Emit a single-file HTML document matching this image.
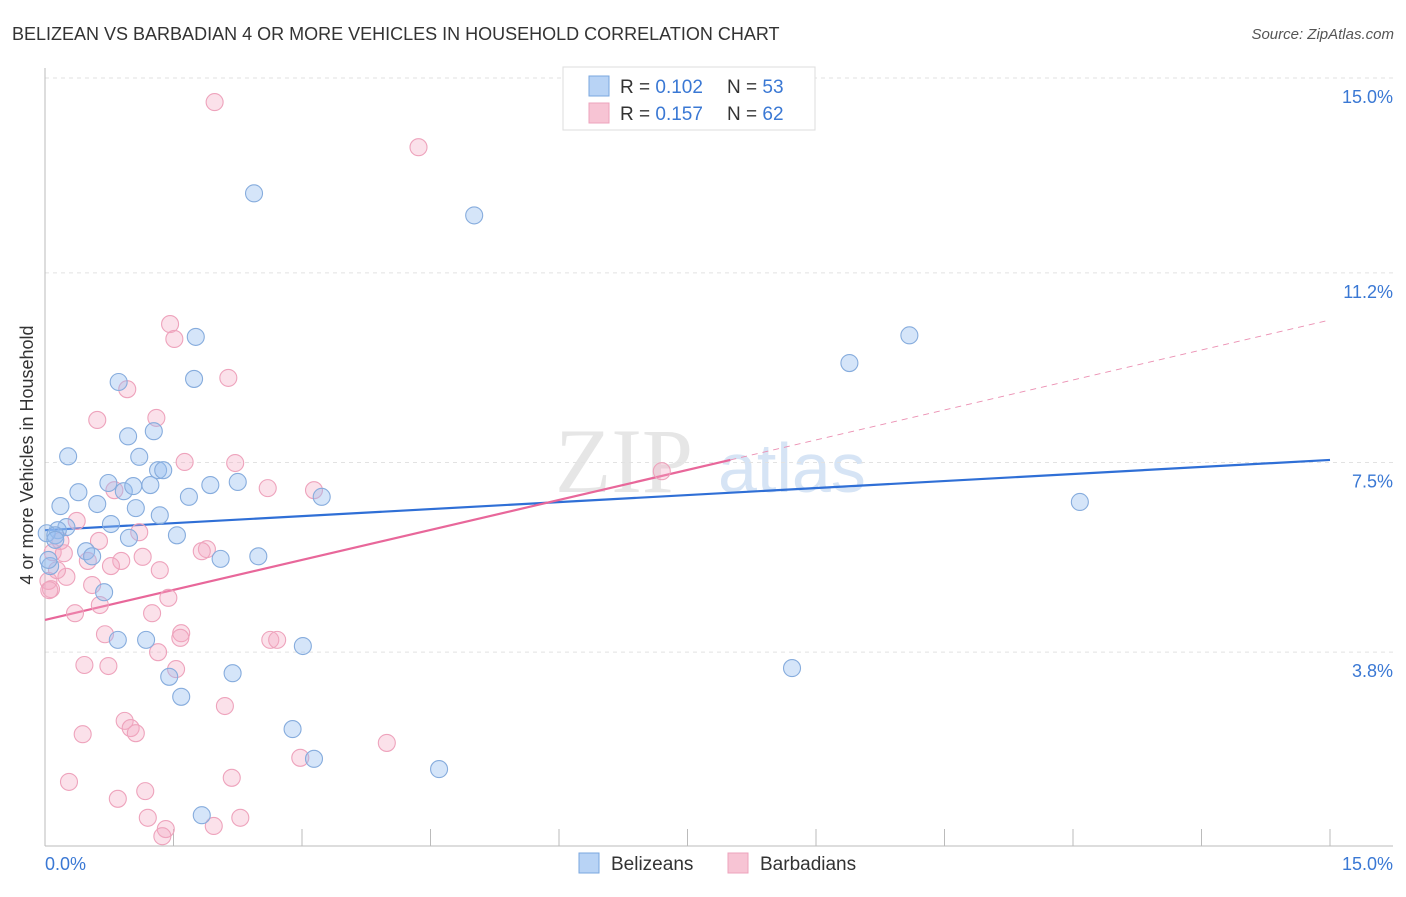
<!DOCTYPE html>
<html><head><meta charset="utf-8"><style>
body{margin:0;background:#fff;font-family:"Liberation Sans",sans-serif}
</style></head><body>
<svg id="chart" width="1406" height="892" xmlns="http://www.w3.org/2000/svg" font-family="Liberation Sans, sans-serif">
<text x="12" y="40" font-size="18" fill="#333">BELIZEAN VS BARBADIAN 4 OR MORE VEHICLES IN HOUSEHOLD CORRELATION CHART</text>
<text x="1394" y="39" font-size="15" fill="#555" text-anchor="end" font-style="italic">Source: ZipAtlas.com</text>
<text x="555" y="492" font-size="92" fill="#e6e6e6" font-family="Liberation Serif, serif">ZIP</text>
<text x="718" y="492" font-size="70" fill="#d6e4f5">atlas</text>
<g id="grid"></g><g id="axes"></g><g id="lines"></g><g id="pts"></g>
<text transform="translate(33,455) rotate(-90)" font-size="18" fill="#333" text-anchor="middle">4 or more Vehicles in Household</text>
<g>
<rect x="563" y="67" width="252" height="63" fill="#fff" stroke="#ddd"/>
<rect x="589" y="76" width="20" height="20" fill="#b8d3f5" stroke="#7aa7df"/>
<rect x="589" y="103" width="20" height="20" fill="#f7c4d4" stroke="#eea3bc"/>
<text x="620" y="93" font-size="19" fill="#333">R = <tspan fill="#3a78d4">0.102</tspan></text>
<text x="727" y="93" font-size="19" fill="#333">N = <tspan fill="#3a78d4">53</tspan></text>
<text x="620" y="120" font-size="19" fill="#333">R = <tspan fill="#3a78d4">0.157</tspan></text>
<text x="727" y="120" font-size="19" fill="#333">N = <tspan fill="#3a78d4">62</tspan></text>
</g>
<g>
<rect x="579" y="853" width="20" height="20" fill="#b8d3f5" stroke="#7aa7df"/>
<text x="611" y="870" font-size="19" fill="#333">Belizeans</text>
<rect x="728" y="853" width="20" height="20" fill="#f7c4d4" stroke="#eea3bc"/>
<text x="760" y="870" font-size="19" fill="#333">Barbadians</text>
</g>
</svg>
<script>
const blueX=[2.44,5.01,1.76,10.09,9.39,1.74,0.86,0.97,1.27,0.27,1.10,1.32,1.38,0.74,1.23,1.93,2.25,0.39,0.92,1.03,1.68,3.23,12.08,0.18,0.61,1.06,1.34,0.77,0.25,0.15,0.02,0.12,1.54,0.98,0.48,0.55,2.05,2.49,0.06,0.69,0.85,1.18,3.01,8.72,1.45,2.19,1.59,2.89,3.14,4.60,1.83,0.12,0.04];
const blueY=[12.75,12.32,9.95,9.98,9.44,9.13,9.07,8.01,8.11,7.62,7.61,7.35,7.35,7.10,7.06,7.06,7.12,6.92,6.94,7.04,6.83,6.83,6.73,6.65,6.69,6.61,6.47,6.30,6.24,6.18,6.12,6.08,6.08,6.03,5.77,5.67,5.62,5.67,5.48,4.97,4.04,4.04,3.92,3.49,3.32,3.39,2.93,2.30,1.72,1.52,0.62,5.99,5.60];
const pinkX=[1.98,4.36,1.46,1.51,2.14,0.96,1.30,0.61,1.63,2.22,2.60,3.14,7.20,0.81,0.37,1.10,0.18,0.63,1.89,1.83,0.09,0.22,1.14,0.50,0.89,0.77,0.25,0.04,0.07,0.55,1.44,0.64,1.25,0.35,0.70,1.59,1.58,2.63,2.71,1.32,1.53,0.46,0.74,2.10,0.93,1.00,1.06,0.44,3.99,2.98,2.18,0.28,0.85,1.17,1.20,2.28,1.97,1.41,1.37,0.05,0.14,1.34];
const pinkY=[14.53,13.65,10.20,9.91,9.15,8.93,8.37,8.33,7.51,7.49,7.00,6.96,7.33,6.96,6.36,6.14,5.97,5.97,5.81,5.77,5.75,5.73,5.66,5.58,5.58,5.48,5.27,5.19,5.03,5.11,4.86,4.72,4.56,4.56,4.15,4.17,4.08,4.04,4.04,3.80,3.47,3.55,3.53,2.75,2.46,2.32,2.22,2.20,2.03,1.74,1.35,1.27,0.94,1.09,0.57,0.57,0.41,0.35,0.21,5.01,5.40,5.40];
const yTicks=[3.8,7.5,11.2,15.0];
const yTickLabels=["3.8%","7.5%","11.2%","15.0%"];
const blueTrend=[6.18,7.55];
const pinkTrend=[4.43,10.28];
const pinkSolidEnd=8.0;
const NS="http://www.w3.org/2000/svg";
const X0=45,X1=1330,Y0=847,Y1=78;
const sx=v=>X0+v/15*(X1-X0);
const sy=v=>Y0-v/15*(Y0-Y1);
function mk(tag,attrs,parent){const e=document.createElementNS(NS,tag);for(const k in attrs)e.setAttribute(k,attrs[k]);document.getElementById(parent).appendChild(e);return e;}
yTicks.forEach((t,i)=>{
 const g=mk('line',{x1:45,x2:1393,y1:sy(t),y2:sy(t),stroke:'#e2e2e2','stroke-dasharray':'4,4'},'grid');
 
 
 const tx=mk('text',{x:1393,y:sy(t)+25,'font-size':18,fill:'#3a78d4','text-anchor':'end'},'grid');
 tx.textContent=yTickLabels[i];
 
 
});
const ax=mk('line',{x1:45,x2:45,y1:68,y2:846,stroke:'#bbb'},'axes');


const bx=mk('line',{x1:45,x2:1393,y1:846,y2:846,stroke:'#bbb'},'axes');


for(let i=0;i<=10;i++){const t=mk('line',{x1:sx(i*1.5),x2:sx(i*1.5),y1:829,y2:846,stroke:'#bbb'},'axes');
 
 }
const xl=mk('text',{x:45,y:870,'font-size':18,fill:'#3a78d4'},'axes');xl.textContent='0.0%';


const xr=mk('text',{x:1393,y:870,'font-size':18,fill:'#3a78d4','text-anchor':'end'},'axes');xr.textContent='15.0%';


function dot(x,y,fill,stroke,name){const c=mk('circle',{cx:sx(x),cy:sy(y),r:8.5,fill:fill,stroke:stroke,'stroke-width':1.1},'pts');
 
 }
pinkX.forEach((x,i)=>dot(x,pinkY[i],'rgba(244,170,195,0.35)','#eea3bc','barbadian-point'));
blueX.forEach((x,i)=>dot(x,blueY[i],'rgba(150,190,240,0.4)','#86acdd','belizean-point'));
const pm=pinkTrend[0]+(pinkTrend[1]-pinkTrend[0])*pinkSolidEnd/15;
const l1=mk('line',{x1:sx(0),y1:sy(blueTrend[0]),x2:sx(15),y2:sy(blueTrend[1]),stroke:'#2f6fd6','stroke-width':2.2},'lines');


const l2=mk('line',{x1:sx(0),y1:sy(pinkTrend[0]),x2:sx(pinkSolidEnd),y2:sy(pm),stroke:'#e8679a','stroke-width':2.2},'lines');


const l3=mk('line',{x1:sx(pinkSolidEnd),y1:sy(pm),x2:sx(15),y2:sy(pinkTrend[1]),stroke:'#eb8fb2','stroke-width':1,'stroke-dasharray':'6,5'},'lines');


</script>
</body></html>
